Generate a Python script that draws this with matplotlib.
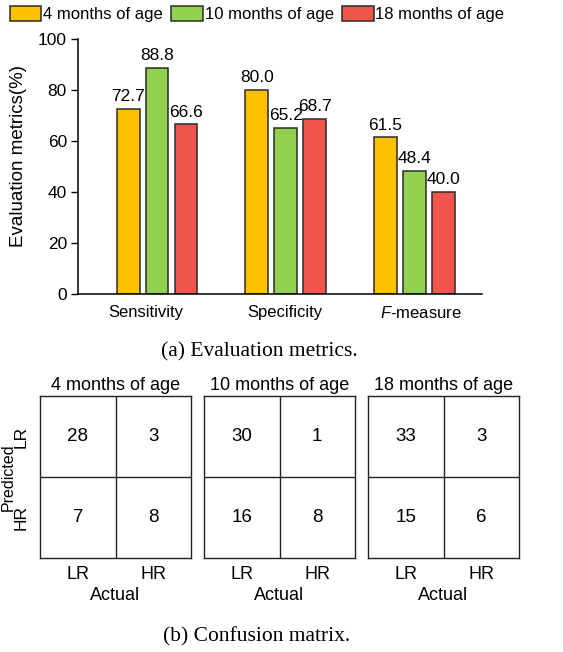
import numpy as np
import matplotlib
matplotlib.use('Agg')
import matplotlib.pyplot as plt
from matplotlib.patches import Patch

plt.rcParams['font.family'] = ['Liberation Sans', 'DejaVu Sans']
plt.rcParams['mathtext.fontset'] = 'custom'
plt.rcParams['mathtext.it'] = 'Liberation Sans:italic'
plt.rcParams['mathtext.rm'] = 'Liberation Sans'

# Data
ages = ['4 months of age', '10 months of age', '18 months of age']
metrics = ['Sensitivity', 'Specificity', '$F$-measure']
sensitivity = [72.7, 88.8, 66.6]
specificity = [80.0, 65.2, 68.7]
fmeasure = [61.5, 48.4, 40.0]
classes = ['LR', 'HR']
conf_4m = [[28, 3], [7, 8]]
conf_10m = [[30, 1], [16, 8]]
conf_18m = [[33, 3], [15, 6]]

colors = ['#FFC000', '#92D050', '#F0564B']
edge = '#2b2b2b'

fig = plt.figure(figsize=(5.63, 6.52), dpi=100)

# (a) grouped bar chart
ax = fig.add_axes([78/563, 1-294/652, 404/563, 255/652])
values = np.array([sensitivity, specificity, fmeasure])  # rows: metric, cols: age
x = np.arange(len(metrics))
step = 0.225
width = 0.178
for i, age in enumerate(ages):
    pos = x + (i-1)*step
    ax.bar(pos, values[:, i], width, color=colors[i], edgecolor=edge, linewidth=1.1, label=age, zorder=2)
    for px, v in zip(pos, values[:, i]):
        ax.text(px, v+1.8, f'{v:.1f}', ha='center', va='bottom', fontsize=12.5)

ax.set_xlim(-0.614, 2.525)
ax.set_ylim(0, 100)
ax.set_yticks(np.arange(0, 101, 20))
ax.tick_params(axis='y', labelsize=12.5, length=5, width=1, direction='out', pad=3)
# metric names sit a little left of the group centres
ax.set_xticks(x + np.array([-0.085, -0.01, 0.05]))
ax.set_xticklabels(metrics)
ax.tick_params(axis='x', labelsize=12, length=0, pad=8)
ax.spines['top'].set_visible(False)
ax.spines['right'].set_visible(False)
ax.spines['left'].set_linewidth(1.1)
ax.spines['bottom'].set_linewidth(1.1)
ax.set_ylabel('Evaluation metrics(%)', fontsize=13.5)
ax.yaxis.set_label_coords(-0.126, 0.54)

handles = [Patch(facecolor=c, edgecolor=edge, linewidth=1.1) for c in colors]
fig.legend(handles, ages, loc='center', bbox_to_anchor=(257/563, 1-14/652), ncol=3,
           frameon=False, fontsize=12, handlelength=1.9, handleheight=1.0,
           handletextpad=0.1, columnspacing=0.5, borderpad=0)

fig.text(259/563, 1-352/652, '(a) Evaluation metrics.', ha='center', va='center',
         fontsize=15.5, family='Liberation Serif')

# (b) confusion matrices
lefts = [40, 204, 368]
mats = [conf_4m, conf_10m, conf_18m]
for k, (left, mat, age) in enumerate(zip(lefts, mats, ages)):
    cax = fig.add_axes([left/563, 1-558/652, 151/563, 162/652])
    mat = np.array(mat)
    cax.set_xlim(0, 2)
    cax.set_ylim(2, 0)
    cax.axvline(1, color='#222222', linewidth=1)
    cax.axhline(1, color='#222222', linewidth=1)
    for r in range(2):
        for c in range(2):
            cax.text(c+0.5, r+0.5, str(mat[r, c]), ha='center', va='center', fontsize=13.5)
    for sp in cax.spines.values():
        sp.set_color('#222222')
        sp.set_linewidth(1)
    cax.set_xticks([0.5, 1.5])
    cax.set_xticklabels(classes)
    cax.tick_params(axis='x', length=0, labelsize=13, pad=6)
    cax.set_xlabel('Actual', fontsize=13, labelpad=3)
    cax.set_title(age, fontsize=13, pad=4)
    if k == 0:
        cax.set_yticks([0.5, 1.5])
        cax.set_yticklabels(classes, rotation=90, va='center')
        cax.tick_params(axis='y', length=0, labelsize=12.5, pad=8)
        cax.set_ylabel('Predicted', fontsize=11.5)
        cax.yaxis.set_label_coords(-0.16, 0.5)
    else:
        cax.set_yticks([])

fig.text(257/563, 1-637/652, '(b) Confusion matrix.', ha='center', va='center',
         fontsize=15.5, family='Liberation Serif')

fig.savefig('out.png', dpi=100)
